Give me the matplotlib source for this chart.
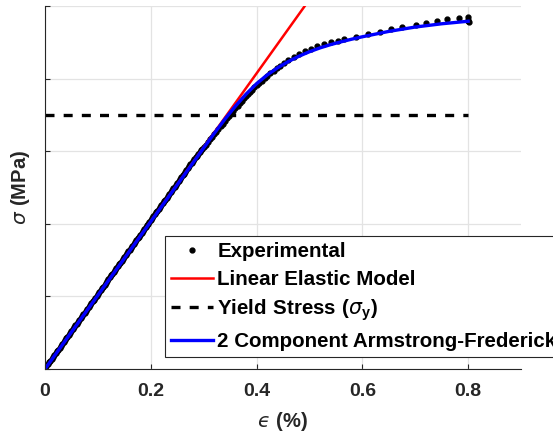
import matplotlib.pyplot as plt

plt.rcParams["font.family"] = ["Liberation Sans", "DejaVu Sans"]
plt.rcParams["font.weight"] = "bold"
plt.rcParams["mathtext.fontset"] = "custom"
plt.rcParams["mathtext.rm"] = "Liberation Sans:weight=normal"
plt.rcParams["mathtext.it"] = "DejaVu Sans:style=italic:weight=normal"
plt.rcParams["mathtext.bf"] = "Liberation Sans:weight=bold"

# ---- measured stress-strain data (strain in %, stress in MPa) ----
exp_strain = [
    0.0000,
    0.0025, 0.0050, 0.0075, 0.0100, 0.0125, 0.0150, 0.0175, 0.0200, 0.0225, 0.0250,
    0.0275, 0.0300, 0.0325, 0.0350, 0.0375, 0.0400, 0.0425, 0.0450, 0.0475, 0.0500,
    0.0525, 0.0550, 0.0575, 0.0600, 0.0625, 0.0650, 0.0675, 0.0700, 0.0725, 0.0750,
    0.0775, 0.0800, 0.0825, 0.0850, 0.0875, 0.0900, 0.0925, 0.0950, 0.0975, 0.1000,
    0.1025, 0.1050, 0.1075, 0.1100, 0.1125, 0.1150, 0.1175, 0.1200, 0.1225, 0.1250,
    0.1275, 0.1300, 0.1325, 0.1350, 0.1375, 0.1400, 0.1425, 0.1450, 0.1475, 0.1500,
    0.1525, 0.1550, 0.1575, 0.1600, 0.1625, 0.1650, 0.1675, 0.1700, 0.1725, 0.1750,
    0.1775, 0.1800, 0.1825, 0.1850, 0.1875, 0.1900, 0.1925, 0.1950, 0.1975, 0.2000,
    0.2025, 0.2050, 0.2075, 0.2100, 0.2125, 0.2150, 0.2175, 0.2200, 0.2225, 0.2250,
    0.2275, 0.2300, 0.2325, 0.2350, 0.2375, 0.2400, 0.2425, 0.2450, 0.2475, 0.2500,
    0.2525, 0.2550, 0.2575, 0.2600, 0.2625, 0.2650, 0.2675, 0.2700, 0.2725, 0.2750,
    0.2775, 0.2800, 0.2825, 0.2850, 0.2875, 0.2900, 0.2925, 0.2950, 0.2975, 0.3000,
    0.304, 0.308, 0.312, 0.316, 0.320, 0.324, 0.328, 0.332, 0.336, 0.340,
    0.344, 0.348, 0.352, 0.356, 0.360, 0.364, 0.368, 0.372, 0.376, 0.380,
    0.384, 0.388, 0.392, 0.396, 0.400, 0.405, 0.410, 0.415, 0.420, 0.426,
    0.432, 0.438, 0.444, 0.451, 0.460, 0.470, 0.480, 0.491, 0.502, 0.514,
    0.527, 0.540, 0.553, 0.566, 0.588, 0.611, 0.634, 0.654, 0.674, 0.701,
    0.720, 0.741, 0.760, 0.782, 0.799, 0.800, 0.801, 0.800,
]
exp_stress = [
    0.0,
    3.8, 6.2, 9.0, 11.4, 13.9, 16.6, 19.0, 21.7, 24.1, 26.8,
    29.2, 31.9, 34.3, 37.0, 39.4, 42.1, 44.5, 47.2, 49.6, 52.3,
    54.8, 57.4, 59.9, 62.5, 65.0, 67.6, 70.1, 72.7, 75.2, 77.8,
    80.3, 82.9, 85.4, 88.0, 90.5, 93.1, 95.6, 98.2, 100.7, 103.3,
    105.8, 108.4, 110.9, 113.5, 116.0, 118.6, 121.1, 123.7, 126.2, 128.8,
    131.3, 133.9, 136.4, 139.0, 141.5, 144.1, 146.6, 149.2, 151.7, 154.4,
    156.9, 159.4, 162.0, 164.5, 167.1, 169.6, 172.2, 174.7, 177.3, 179.9,
    182.4, 185.0, 187.5, 190.1, 192.6, 195.2, 197.7, 200.3, 202.8, 205.4,
    207.9, 210.5, 213.0, 215.6, 218.1, 220.7, 223.2, 225.8, 228.3, 230.9,
    233.4, 236.0, 238.5, 241.1, 243.6, 246.2, 248.7, 251.3, 253.8, 256.4,
    258.9, 261.5, 264.0, 266.6, 269.1, 271.7, 274.2, 276.7, 279.2, 281.7,
    284.2, 286.7, 289.1, 291.6, 294.0, 296.4, 298.8, 301.2, 303.5, 305.8,
    309.0, 312.6, 316.2, 319.8, 323.4, 327.0, 330.6, 334.2, 337.9, 341.7,
    345.3, 348.9, 352.5, 356.0, 359.5, 362.9, 366.2, 369.4, 372.7, 375.9,
    378.9, 381.9, 384.8, 387.8, 390.7, 393.9, 397.2, 400.4, 403.6, 407.2,
    411.0, 414.6, 418.0, 421.8, 426.0, 430.2, 434.0, 437.6, 441.0, 444.2,
    447.2, 450.0, 451.8, 454.0, 457.7, 461.0, 464.6, 468.3, 471.0, 473.8,
    476.6, 479.3, 481.7, 484.0, 484.5, 480.5, 477.5, 479.0,
]

# linear elastic model (E ~ 1018 MPa per %)
lin_strain = [0.0, 0.8]
lin_stress = [0.0, 814.4]

# yield stress
yield_strain = [0.0, 0.8]
yield_stress = [350.0, 350.0]

# 2 component Armstrong-Frederick fit
af_strain = [
    0.00, 0.05, 0.10, 0.15, 0.20, 0.25, 0.30, 0.32, 0.34, 0.36,
    0.38, 0.40, 0.42, 0.44, 0.46, 0.48, 0.50, 0.52, 0.54, 0.56,
    0.58, 0.60, 0.65, 0.70, 0.75, 0.80,
]
af_stress = [
    0.0, 50.8, 101.6, 152.3, 203.1, 253.8, 304.5, 324.6, 344.0, 362.0,
    378.5, 393.0, 405.0, 415.0, 423.5, 430.8, 437.0, 442.3, 446.8, 450.7,
    454.3, 457.6, 465.0, 471.0, 475.5, 479.0,
]

x_ticks = [0, 0.2, 0.4, 0.6, 0.8]
x_tick_labels = ["0", "0.2", "0.4", "0.6", "0.8"]
y_ticks = [0, 100, 200, 300, 400, 500]

fig = plt.figure(figsize=(5.53, 4.34), dpi=100)
ax = fig.add_axes([0.0814, 0.1498, 0.8608, 0.8364])

ax.plot(exp_strain, exp_stress, linestyle="none", marker="o", markersize=3.5,
        color="k", label="Experimental")
ax.plot(lin_strain, lin_stress, color="r", lw=1.8, label="Linear Elastic Model")
ax.plot(yield_strain, yield_stress, color="k", lw=2.4, linestyle=(0, (2.7, 2.75)),
        label=r"$\mathbf{Yield\ Stress\ (}\sigma_\mathbf{y}\mathbf{)}$")
ax.plot(af_strain, af_stress, color="b", lw=2.4,
        label="2 Component Armstrong-Frederick")

ax.set_xlim(0, 0.9)
ax.set_ylim(0, 500)
ax.set_xticks(x_ticks)
ax.set_xticklabels(x_tick_labels)
ax.set_yticks(y_ticks)
ax.set_yticklabels([])

ax.grid(True, color="#e3e3e3", lw=0.9)
ax.set_axisbelow(True)
for side in ["top", "right"]:
    ax.spines[side].set_visible(False)
for side in ["left", "bottom"]:
    ax.spines[side].set_color("#262626")
    ax.spines[side].set_linewidth(0.8)
ax.tick_params(direction="in", length=3.5, width=0.8, colors="#262626",
               labelsize=14, pad=10)

# greek symbols stay light, the rest of the label is bold
ax.set_xlabel("$\u03f5\\ \\mathbf{(\\%)}$", fontsize=14.5, fontweight="normal",
              color="#262626", labelpad=7)
ax.set_ylabel(r"$\sigma\ \mathbf{(MPa)}$", fontsize=14.5, fontweight="normal",
              color="#262626")
ax.yaxis.set_label_coords(-0.027, 0.5)

leg = ax.legend(loc="upper left", bbox_to_anchor=(165 / 553, 1 - 236 / 434),
                bbox_transform=fig.transFigure, borderaxespad=0,
                fontsize=14.8, numpoints=1, handlelength=2.05,
                handletextpad=0.2, borderpad=0.3, labelspacing=0.42,
                fancybox=False, framealpha=1, edgecolor="#262626")
leg.get_frame().set_linewidth(0.8)
leg.get_texts()[2].set_fontweight("normal")

fig.savefig("out.png", dpi=100)
